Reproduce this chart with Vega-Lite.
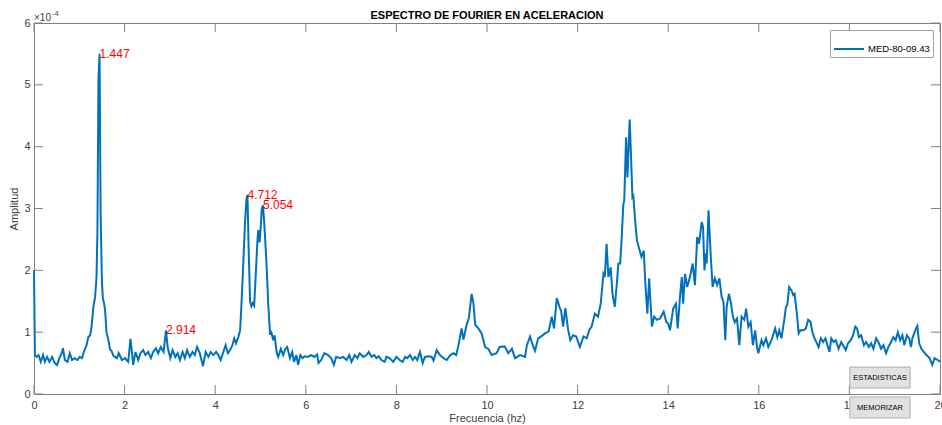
{
  "$schema": "https://vega.github.io/schema/vega-lite/v6.json",
  "width": 906,
  "height": 371,
  "autosize": "none",
  "padding": {"left": 34, "top": 23, "right": 2, "bottom": 31},
  "background": "white",
  "title": {"text": "ESPECTRO DE FOURIER EN ACELERACION", "font": "Liberation Sans", "fontSize": 11, "fontWeight": "bold", "color": "#000000", "anchor": "middle", "offset": -11},
  "config": {
    "view": {"stroke": "#808080", "strokeWidth": 1},
    "axis": {"domainColor": "#808080", "tickColor": "#808080", "labelColor": "#404040", "labelFont": "Liberation Sans", "labelFontSize": 11, "titleFont": "Liberation Sans", "titleFontSize": 11, "titleFontWeight": "normal", "titleColor": "#404040", "grid": false}
  },
  "datasets": {
    "spectrum": [
      {"f": 0, "a": 2.0}, {"f": 0.02, "a": 0.63}, {"f": 0.06, "a": 0.6}, {"f": 0.1, "a": 0.63}, {"f": 0.15, "a": 0.52}, {"f": 0.2, "a": 0.63}, {"f": 0.24, "a": 0.52}, {"f": 0.29, "a": 0.6}, {"f": 0.34, "a": 0.52}, {"f": 0.4, "a": 0.6}, {"f": 0.46, "a": 0.5}, {"f": 0.51, "a": 0.47}, {"f": 0.56, "a": 0.58}, {"f": 0.61, "a": 0.66}, {"f": 0.64, "a": 0.74}, {"f": 0.68, "a": 0.55}, {"f": 0.74, "a": 0.52}, {"f": 0.79, "a": 0.66}, {"f": 0.84, "a": 0.55}, {"f": 0.9, "a": 0.58}, {"f": 0.96, "a": 0.55}, {"f": 1.01, "a": 0.6}, {"f": 1.06, "a": 0.58}, {"f": 1.1, "a": 0.68}, {"f": 1.16, "a": 0.79}, {"f": 1.2, "a": 0.92}, {"f": 1.24, "a": 0.95}, {"f": 1.27, "a": 1.08}, {"f": 1.31, "a": 1.41}, {"f": 1.35, "a": 1.57}, {"f": 1.38, "a": 1.9}, {"f": 1.4, "a": 2.6}, {"f": 1.423, "a": 5.1}, {"f": 1.447, "a": 5.5}, {"f": 1.471, "a": 2.9}, {"f": 1.5, "a": 1.8}, {"f": 1.52, "a": 1.55}, {"f": 1.55, "a": 1.45}, {"f": 1.57, "a": 1.35}, {"f": 1.6, "a": 1.0}, {"f": 1.64, "a": 0.88}, {"f": 1.68, "a": 0.72}, {"f": 1.71, "a": 0.7}, {"f": 1.75, "a": 0.62}, {"f": 1.79, "a": 0.6}, {"f": 1.83, "a": 0.58}, {"f": 1.87, "a": 0.66}, {"f": 1.94, "a": 0.55}, {"f": 2.01, "a": 0.58}, {"f": 2.08, "a": 0.52}, {"f": 2.13, "a": 0.89}, {"f": 2.19, "a": 0.47}, {"f": 2.24, "a": 0.68}, {"f": 2.3, "a": 0.55}, {"f": 2.35, "a": 0.66}, {"f": 2.41, "a": 0.71}, {"f": 2.46, "a": 0.63}, {"f": 2.52, "a": 0.68}, {"f": 2.58, "a": 0.58}, {"f": 2.63, "a": 0.68}, {"f": 2.69, "a": 0.74}, {"f": 2.74, "a": 0.66}, {"f": 2.8, "a": 0.76}, {"f": 2.86, "a": 0.68}, {"f": 2.914, "a": 1.03}, {"f": 2.95, "a": 0.76}, {"f": 3.01, "a": 0.58}, {"f": 3.06, "a": 0.71}, {"f": 3.12, "a": 0.6}, {"f": 3.17, "a": 0.66}, {"f": 3.22, "a": 0.55}, {"f": 3.28, "a": 0.68}, {"f": 3.33, "a": 0.58}, {"f": 3.38, "a": 0.71}, {"f": 3.44, "a": 0.6}, {"f": 3.5, "a": 0.68}, {"f": 3.55, "a": 0.63}, {"f": 3.6, "a": 0.76}, {"f": 3.66, "a": 0.66}, {"f": 3.73, "a": 0.45}, {"f": 3.79, "a": 0.68}, {"f": 3.85, "a": 0.6}, {"f": 3.9, "a": 0.68}, {"f": 3.96, "a": 0.63}, {"f": 4.02, "a": 0.68}, {"f": 4.07, "a": 0.63}, {"f": 4.12, "a": 0.55}, {"f": 4.18, "a": 0.68}, {"f": 4.23, "a": 0.79}, {"f": 4.28, "a": 0.66}, {"f": 4.33, "a": 0.71}, {"f": 4.38, "a": 0.79}, {"f": 4.42, "a": 0.9}, {"f": 4.46, "a": 0.82}, {"f": 4.51, "a": 0.92}, {"f": 4.55, "a": 1.03}, {"f": 4.58, "a": 1.46}, {"f": 4.62, "a": 2.11}, {"f": 4.66, "a": 2.8}, {"f": 4.69, "a": 3.15}, {"f": 4.712, "a": 3.22}, {"f": 4.74, "a": 2.3}, {"f": 4.77, "a": 1.5}, {"f": 4.8, "a": 1.42}, {"f": 4.83, "a": 1.47}, {"f": 4.86, "a": 1.43}, {"f": 4.9, "a": 2.0}, {"f": 4.93, "a": 2.45}, {"f": 4.95, "a": 2.65}, {"f": 4.98, "a": 2.45}, {"f": 5.01, "a": 2.75}, {"f": 5.03, "a": 3.0}, {"f": 5.054, "a": 3.05}, {"f": 5.08, "a": 2.8}, {"f": 5.1, "a": 2.54}, {"f": 5.14, "a": 2.0}, {"f": 5.17, "a": 1.46}, {"f": 5.21, "a": 0.98}, {"f": 5.24, "a": 1.0}, {"f": 5.28, "a": 0.87}, {"f": 5.31, "a": 0.95}, {"f": 5.36, "a": 0.66}, {"f": 5.39, "a": 0.6}, {"f": 5.45, "a": 0.73}, {"f": 5.5, "a": 0.63}, {"f": 5.55, "a": 0.73}, {"f": 5.59, "a": 0.76}, {"f": 5.65, "a": 0.58}, {"f": 5.7, "a": 0.68}, {"f": 5.74, "a": 0.52}, {"f": 5.79, "a": 0.63}, {"f": 5.83, "a": 0.47}, {"f": 5.88, "a": 0.63}, {"f": 5.93, "a": 0.58}, {"f": 5.98, "a": 0.61}, {"f": 6.04, "a": 0.6}, {"f": 6.12, "a": 0.63}, {"f": 6.19, "a": 0.6}, {"f": 6.25, "a": 0.64}, {"f": 6.28, "a": 0.5}, {"f": 6.34, "a": 0.55}, {"f": 6.41, "a": 0.66}, {"f": 6.49, "a": 0.63}, {"f": 6.56, "a": 0.58}, {"f": 6.62, "a": 0.47}, {"f": 6.67, "a": 0.6}, {"f": 6.75, "a": 0.58}, {"f": 6.82, "a": 0.6}, {"f": 6.9, "a": 0.55}, {"f": 6.96, "a": 0.63}, {"f": 7.01, "a": 0.52}, {"f": 7.08, "a": 0.63}, {"f": 7.14, "a": 0.58}, {"f": 7.19, "a": 0.66}, {"f": 7.27, "a": 0.6}, {"f": 7.34, "a": 0.63}, {"f": 7.39, "a": 0.68}, {"f": 7.45, "a": 0.6}, {"f": 7.51, "a": 0.63}, {"f": 7.56, "a": 0.58}, {"f": 7.61, "a": 0.61}, {"f": 7.67, "a": 0.55}, {"f": 7.74, "a": 0.52}, {"f": 7.78, "a": 0.6}, {"f": 7.85, "a": 0.58}, {"f": 7.93, "a": 0.52}, {"f": 8.0, "a": 0.6}, {"f": 8.07, "a": 0.55}, {"f": 8.14, "a": 0.52}, {"f": 8.19, "a": 0.6}, {"f": 8.24, "a": 0.58}, {"f": 8.3, "a": 0.63}, {"f": 8.36, "a": 0.55}, {"f": 8.41, "a": 0.6}, {"f": 8.46, "a": 0.55}, {"f": 8.52, "a": 0.68}, {"f": 8.58, "a": 0.5}, {"f": 8.63, "a": 0.6}, {"f": 8.71, "a": 0.61}, {"f": 8.78, "a": 0.6}, {"f": 8.82, "a": 0.54}, {"f": 8.89, "a": 0.71}, {"f": 8.96, "a": 0.63}, {"f": 9.04, "a": 0.58}, {"f": 9.11, "a": 0.55}, {"f": 9.19, "a": 0.63}, {"f": 9.26, "a": 0.66}, {"f": 9.32, "a": 0.63}, {"f": 9.37, "a": 0.79}, {"f": 9.44, "a": 1.06}, {"f": 9.48, "a": 0.88}, {"f": 9.55, "a": 1.12}, {"f": 9.6, "a": 1.23}, {"f": 9.66, "a": 1.62}, {"f": 9.7, "a": 1.47}, {"f": 9.74, "a": 1.12}, {"f": 9.81, "a": 1.06}, {"f": 9.88, "a": 0.98}, {"f": 9.96, "a": 0.76}, {"f": 10.03, "a": 0.73}, {"f": 10.1, "a": 0.63}, {"f": 10.21, "a": 0.66}, {"f": 10.28, "a": 0.76}, {"f": 10.39, "a": 0.77}, {"f": 10.47, "a": 0.66}, {"f": 10.55, "a": 0.73}, {"f": 10.62, "a": 0.58}, {"f": 10.73, "a": 0.63}, {"f": 10.84, "a": 0.6}, {"f": 10.88, "a": 0.79}, {"f": 10.95, "a": 0.93}, {"f": 11.01, "a": 0.79}, {"f": 11.06, "a": 0.7}, {"f": 11.13, "a": 0.9}, {"f": 11.21, "a": 0.94}, {"f": 11.28, "a": 0.98}, {"f": 11.36, "a": 1.01}, {"f": 11.43, "a": 1.25}, {"f": 11.48, "a": 1.06}, {"f": 11.54, "a": 1.55}, {"f": 11.6, "a": 1.41}, {"f": 11.64, "a": 1.33}, {"f": 11.68, "a": 1.09}, {"f": 11.73, "a": 1.39}, {"f": 11.79, "a": 1.04}, {"f": 11.84, "a": 0.87}, {"f": 11.9, "a": 0.95}, {"f": 11.97, "a": 0.93}, {"f": 12.05, "a": 0.76}, {"f": 12.13, "a": 0.93}, {"f": 12.2, "a": 0.9}, {"f": 12.26, "a": 1.04}, {"f": 12.31, "a": 1.09}, {"f": 12.38, "a": 1.3}, {"f": 12.45, "a": 1.25}, {"f": 12.51, "a": 1.46}, {"f": 12.57, "a": 1.94}, {"f": 12.6, "a": 1.89}, {"f": 12.64, "a": 2.43}, {"f": 12.68, "a": 1.89}, {"f": 12.73, "a": 2.05}, {"f": 12.77, "a": 1.62}, {"f": 12.82, "a": 1.41}, {"f": 12.86, "a": 1.73}, {"f": 12.9, "a": 2.11}, {"f": 12.94, "a": 2.11}, {"f": 12.97, "a": 2.48}, {"f": 13.01, "a": 3.07}, {"f": 13.03, "a": 3.13}, {"f": 13.07, "a": 4.15}, {"f": 13.1, "a": 3.5}, {"f": 13.15, "a": 4.44}, {"f": 13.18, "a": 3.83}, {"f": 13.21, "a": 3.18}, {"f": 13.23, "a": 3.2}, {"f": 13.27, "a": 2.81}, {"f": 13.31, "a": 2.48}, {"f": 13.37, "a": 2.32}, {"f": 13.41, "a": 2.22}, {"f": 13.46, "a": 2.32}, {"f": 13.5, "a": 1.73}, {"f": 13.54, "a": 1.3}, {"f": 13.58, "a": 1.87}, {"f": 13.64, "a": 1.09}, {"f": 13.69, "a": 1.25}, {"f": 13.75, "a": 1.2}, {"f": 13.82, "a": 1.22}, {"f": 13.9, "a": 1.33}, {"f": 13.96, "a": 1.16}, {"f": 14.0, "a": 1.14}, {"f": 14.04, "a": 1.03}, {"f": 14.11, "a": 1.38}, {"f": 14.17, "a": 1.46}, {"f": 14.21, "a": 1.06}, {"f": 14.26, "a": 1.57}, {"f": 14.3, "a": 1.89}, {"f": 14.33, "a": 1.46}, {"f": 14.37, "a": 1.94}, {"f": 14.42, "a": 1.73}, {"f": 14.48, "a": 1.89}, {"f": 14.54, "a": 2.11}, {"f": 14.59, "a": 1.76}, {"f": 14.64, "a": 2.54}, {"f": 14.68, "a": 2.43}, {"f": 14.74, "a": 2.78}, {"f": 14.77, "a": 2.7}, {"f": 14.8, "a": 2.0}, {"f": 14.83, "a": 2.27}, {"f": 14.85, "a": 2.11}, {"f": 14.89, "a": 2.97}, {"f": 14.94, "a": 2.22}, {"f": 14.98, "a": 1.73}, {"f": 15.03, "a": 1.87}, {"f": 15.08, "a": 1.76}, {"f": 15.13, "a": 1.87}, {"f": 15.18, "a": 1.57}, {"f": 15.22, "a": 1.49}, {"f": 15.26, "a": 0.87}, {"f": 15.29, "a": 1.41}, {"f": 15.34, "a": 1.62}, {"f": 15.38, "a": 1.49}, {"f": 15.43, "a": 1.25}, {"f": 15.47, "a": 1.16}, {"f": 15.52, "a": 1.22}, {"f": 15.57, "a": 0.79}, {"f": 15.62, "a": 1.25}, {"f": 15.68, "a": 1.2}, {"f": 15.72, "a": 1.38}, {"f": 15.77, "a": 1.09}, {"f": 15.82, "a": 1.16}, {"f": 15.87, "a": 0.79}, {"f": 15.92, "a": 1.03}, {"f": 15.96, "a": 0.76}, {"f": 15.99, "a": 0.66}, {"f": 16.06, "a": 0.87}, {"f": 16.1, "a": 0.79}, {"f": 16.16, "a": 0.9}, {"f": 16.21, "a": 0.76}, {"f": 16.28, "a": 0.87}, {"f": 16.36, "a": 1.06}, {"f": 16.41, "a": 0.92}, {"f": 16.45, "a": 1.03}, {"f": 16.5, "a": 0.9}, {"f": 16.56, "a": 1.19}, {"f": 16.6, "a": 1.41}, {"f": 16.63, "a": 1.44}, {"f": 16.67, "a": 1.73}, {"f": 16.72, "a": 1.68}, {"f": 16.76, "a": 1.6}, {"f": 16.79, "a": 1.62}, {"f": 16.84, "a": 1.3}, {"f": 16.88, "a": 0.98}, {"f": 16.92, "a": 1.03}, {"f": 16.99, "a": 1.03}, {"f": 17.04, "a": 1.06}, {"f": 17.09, "a": 1.2}, {"f": 17.14, "a": 1.17}, {"f": 17.18, "a": 1.01}, {"f": 17.22, "a": 0.92}, {"f": 17.27, "a": 0.84}, {"f": 17.32, "a": 0.76}, {"f": 17.37, "a": 0.9}, {"f": 17.42, "a": 0.84}, {"f": 17.47, "a": 0.9}, {"f": 17.56, "a": 0.68}, {"f": 17.6, "a": 0.9}, {"f": 17.65, "a": 0.84}, {"f": 17.7, "a": 0.87}, {"f": 17.76, "a": 0.73}, {"f": 17.82, "a": 0.84}, {"f": 17.86, "a": 0.79}, {"f": 17.92, "a": 0.71}, {"f": 17.97, "a": 0.82}, {"f": 18.03, "a": 0.87}, {"f": 18.08, "a": 0.95}, {"f": 18.13, "a": 1.09}, {"f": 18.17, "a": 1.06}, {"f": 18.21, "a": 0.92}, {"f": 18.26, "a": 0.95}, {"f": 18.32, "a": 0.79}, {"f": 18.37, "a": 0.84}, {"f": 18.43, "a": 0.76}, {"f": 18.48, "a": 0.82}, {"f": 18.53, "a": 0.73}, {"f": 18.59, "a": 0.9}, {"f": 18.64, "a": 0.84}, {"f": 18.7, "a": 0.73}, {"f": 18.75, "a": 0.79}, {"f": 18.81, "a": 0.66}, {"f": 18.86, "a": 0.76}, {"f": 18.92, "a": 0.84}, {"f": 18.97, "a": 0.92}, {"f": 19.02, "a": 0.87}, {"f": 19.07, "a": 1.0}, {"f": 19.12, "a": 0.87}, {"f": 19.17, "a": 0.95}, {"f": 19.21, "a": 0.79}, {"f": 19.27, "a": 0.95}, {"f": 19.32, "a": 0.9}, {"f": 19.36, "a": 0.76}, {"f": 19.39, "a": 0.9}, {"f": 19.47, "a": 1.06}, {"f": 19.5, "a": 1.1}, {"f": 19.54, "a": 0.82}, {"f": 19.59, "a": 0.73}, {"f": 19.64, "a": 0.68}, {"f": 19.7, "a": 0.63}, {"f": 19.77, "a": 0.58}, {"f": 19.83, "a": 0.47}, {"f": 19.88, "a": 0.58}, {"f": 19.95, "a": 0.55}, {"f": 20.0, "a": 0.52}
    ],
    "peaks": [
      {"f": 1.447, "a": 5.5, "label": "1.447"},
      {"f": 2.914, "a": 1.03, "label": "2.914"},
      {"f": 4.712, "a": 3.22, "label": "4.712"},
      {"f": 5.054, "a": 3.05, "label": "5.054"}
    ],
    "xticks": [{"v": 0}, {"v": 2}, {"v": 4}, {"v": 6}, {"v": 8}, {"v": 10}, {"v": 12}, {"v": 14}, {"v": 16}, {"v": 18}, {"v": 20}],
    "yticks": [{"v": 0}, {"v": 1}, {"v": 2}, {"v": 3}, {"v": 4}, {"v": 5}, {"v": 6}]
  },
  "layer": [
    {
      "data": {"name": "xticks"},
      "mark": {"type": "rule", "color": "#808080", "strokeWidth": 1},
      "encoding": {"x": {"field": "v", "type": "quantitative", "axis": null}, "y": {"datum": 0, "type": "quantitative", "axis": null}, "y2": {"datum": 0.146}}
    },
    {
      "data": {"name": "xticks"},
      "mark": {"type": "rule", "color": "#808080", "strokeWidth": 1},
      "encoding": {"x": {"field": "v", "type": "quantitative", "axis": null}, "y": {"datum": 6, "type": "quantitative", "axis": null}, "y2": {"datum": 5.854}}
    },
    {
      "data": {"name": "yticks"},
      "mark": {"type": "rule", "color": "#808080", "strokeWidth": 1},
      "encoding": {"y": {"field": "v", "type": "quantitative", "axis": null}, "x": {"datum": 0, "type": "quantitative", "axis": null}, "x2": {"datum": 0.199}}
    },
    {
      "data": {"name": "yticks"},
      "mark": {"type": "rule", "color": "#808080", "strokeWidth": 1},
      "encoding": {"y": {"field": "v", "type": "quantitative", "axis": null}, "x": {"datum": 20, "type": "quantitative", "axis": null}, "x2": {"datum": 19.801}}
    },
    {
      "data": {"name": "spectrum"},
      "mark": {"type": "line", "strokeWidth": 2, "interpolate": "linear"},
      "encoding": {
        "x": {"field": "f", "type": "quantitative", "scale": {"domain": [0, 20], "nice": false, "zero": false},
              "axis": {"orient": "bottom", "values": [0, 2, 4, 6, 8, 10, 12, 14, 16, 18, 20], "title": "Frecuencia (hz)", "ticks": false, "labelPadding": 5, "titlePadding": 2, "labelFlush": false}},
        "y": {"field": "a", "type": "quantitative", "scale": {"domain": [0, 6], "nice": false},
              "axis": {"orient": "left", "values": [0, 1, 2, 3, 4, 5, 6], "title": "Amplitud", "ticks": false, "labelPadding": 4, "titlePadding": 4, "labelFlush": false}},
        "color": {"datum": "MED-80-09.43", "type": "nominal", "scale": {"range": ["#0072BD"]},
                  "legend": {"title": null, "orient": "top-right", "offset": 7, "symbolType": "stroke", "symbolSize": 900, "symbolStrokeWidth": 2, "labelFont": "Liberation Sans", "labelFontSize": 9.5, "labelColor": "#000000", "fillColor": "#ffffff", "strokeColor": "#a0a0a0", "padding": 3, "labelOffset": 3}}
      }
    },
    {
      "data": {"name": "peaks"},
      "mark": {"type": "text", "align": "left", "baseline": "middle", "font": "Liberation Sans", "fontSize": 12, "color": "#ff0000"},
      "encoding": {
        "x": {"field": "f", "type": "quantitative", "axis": null},
        "y": {"field": "a", "type": "quantitative", "axis": null},
        "text": {"field": "label"}
      }
    },
    {
      "data": {"values": [{}]},
      "mark": {"type": "text", "align": "left", "baseline": "bottom", "font": "Liberation Sans", "fontSize": 10, "color": "#404040", "dy": 0},
      "encoding": {"x": {"datum": 0, "type": "quantitative", "axis": null}, "y": {"datum": 6, "type": "quantitative", "axis": null}, "text": {"value": "×10"}}
    },
    {
      "data": {"values": [{}]},
      "mark": {"type": "text", "align": "left", "baseline": "bottom", "font": "Liberation Sans", "fontSize": 7.5, "color": "#404040", "dx": 18, "dy": -5},
      "encoding": {"x": {"datum": 0, "type": "quantitative", "axis": null}, "y": {"datum": 6, "type": "quantitative", "axis": null}, "text": {"value": "-4"}}
    },
    {
      "data": {"values": [{}]},
      "mark": {"type": "rect", "fill": "#e1e1e1", "stroke": "#adadad", "strokeWidth": 1},
      "encoding": {"x": {"datum": 18.01, "type": "quantitative", "axis": null}, "x2": {"datum": 19.34}, "y": {"datum": 0.435, "type": "quantitative", "axis": null}, "y2": {"datum": 0.097}}
    },
    {
      "data": {"values": [{}]},
      "mark": {"type": "text", "align": "center", "baseline": "middle", "font": "Liberation Sans", "fontSize": 7.5, "color": "#000000"},
      "encoding": {"x": {"datum": 18.675, "type": "quantitative", "axis": null}, "y": {"datum": 0.266, "type": "quantitative", "axis": null}, "text": {"value": "ESTADISTICAS"}}
    },
    {
      "data": {"values": [{}]},
      "mark": {"type": "rect", "fill": "#e1e1e1", "stroke": "#adadad", "strokeWidth": 1},
      "encoding": {"x": {"datum": 18.01, "type": "quantitative", "axis": null}, "x2": {"datum": 19.34}, "y": {"datum": -0.048, "type": "quantitative", "axis": null}, "y2": {"datum": -0.387}}
    },
    {
      "data": {"values": [{}]},
      "mark": {"type": "text", "align": "center", "baseline": "middle", "font": "Liberation Sans", "fontSize": 7.5, "color": "#000000"},
      "encoding": {"x": {"datum": 18.675, "type": "quantitative", "axis": null}, "y": {"datum": -0.22, "type": "quantitative", "axis": null}, "text": {"value": "MEMORIZAR"}}
    }
  ],
  "resolve": {"axis": {"x": "independent", "y": "independent"}}
}
